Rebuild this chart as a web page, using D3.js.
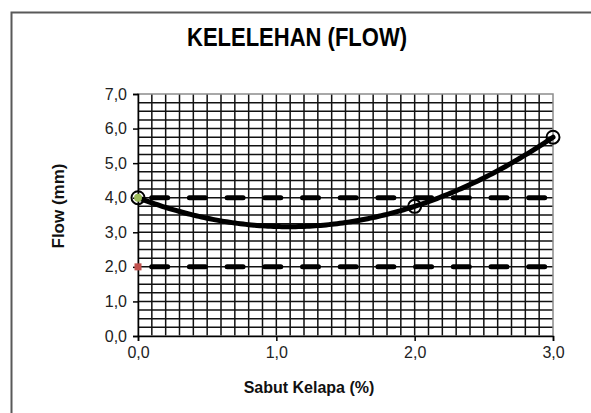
<!DOCTYPE html>
<html>
<head>
<meta charset="utf-8">
<script src="https://cdn.jsdelivr.net/npm/d3@7"></script>
<style>
  body { margin: 0; background: #fff; }
  svg { display: block; font-family: "Liberation Sans", Arial, sans-serif; }
</style>
</head>
<body>
<div id="chart"></div>
<script>
// data
var sabut = [0.0, 2.0, 3.0];          // Sabut Kelapa (%)
var flow = [4.0, 3.75, 5.75];          // Flow (mm)
var batasAtas = 4.0;                   // upper spec line
var batasBawah = 2.0;                  // lower spec line
var xTicks = [0, 1, 2, 3];
var yTicks = [0, 1, 2, 3, 4, 5, 6, 7];

var W = 591, H = 413;
var margin = { top: 94, right: 38, bottom: 77, left: 138 };

var svg = d3.select("#chart").append("svg")
	.attr("width", W)
	.attr("height", H);

svg.append("rect").attr("width", W).attr("height", H).attr("fill", "#fff");

// outer chart border (runs off the right / bottom)
svg.append("rect")
	.attr("x", 11.5).attr("y", 12.5)
	.attr("width", W).attr("height", H)
	.attr("fill", "none")
	.attr("stroke", "#595959")
	.attr("stroke-width", 2);

var x = d3.scaleLinear().domain([0, 3]).range([margin.left, W - margin.right]);
var y = d3.scaleLinear().domain([0, 7]).range([H - margin.bottom, margin.top]);

// gridlines (minor x 0.1, minor y 0.25)
var grid = svg.append("g").attr("class", "grid");
grid.selectAll(".gx")
	.data(d3.range(1, 30).map(function(i) { return i / 10; }))
	.enter().append("line")
	.attr("x1", function(d) { return x(d); })
	.attr("x2", function(d) { return x(d); })
	.attr("y1", y(0)).attr("y2", y(7))
	.attr("stroke", "#111").attr("stroke-width", 1.5);
grid.selectAll(".gy")
	.data(d3.range(1, 28).map(function(i) { return i / 4; }))
	.enter().append("line")
	.attr("y1", function(d) { return y(d); })
	.attr("y2", function(d) { return y(d); })
	.attr("x1", x(0)).attr("x2", x(3))
	.attr("stroke", "#111").attr("stroke-width", 1.5);

// plot area border
svg.append("rect")
	.attr("x", x(0)).attr("y", y(7))
	.attr("width", x(3) - x(0)).attr("height", y(0) - y(7))
	.attr("fill", "none")
	.attr("stroke", "#8c8c8c").attr("stroke-width", 1.5);

// axes
var fmt = function(d) { return d3.format(".1f")(d).replace(".", ","); };
var yAxis = d3.axisLeft(y).tickValues(yTicks).tickSize(5).tickPadding(6).tickFormat(fmt);
var xAxis = d3.axisBottom(x).tickValues(xTicks).tickSize(5).tickPadding(6).tickFormat(fmt);

var gy = svg.append("g").attr("transform", "translate(" + x(0) + ",0)").call(yAxis);
var gx = svg.append("g").attr("transform", "translate(0," + y(0) + ")").call(xAxis);
[gx, gy].forEach(function(g) {
	g.select(".domain").attr("stroke", "#000").attr("stroke-width", 1.5);
	g.selectAll(".tick line").attr("stroke", "#000").attr("stroke-width", 1.5);
	g.selectAll(".tick text")
		.attr("font-size", 16)
		.attr("font-family", "'Liberation Sans', Arial, sans-serif")
		.attr("fill", "#222");
});

// spec lines (long dash)
var batas = [
	{ value: batasAtas, color: "#9bbb59" },
	{ value: batasBawah, color: "#c0504d" }
];
svg.selectAll(".batas")
	.data(batas)
	.enter().append("line")
	.attr("class", "batas")
	.attr("x1", x(0)).attr("x2", x(3))
	.attr("y1", function(d) { return y(d.value); })
	.attr("y2", function(d) { return y(d.value); })
	.attr("stroke", "#000")
	.attr("stroke-width", 5)
	.attr("stroke-linecap", "round")
	.attr("stroke-dasharray", "16 21.7")
	.attr("stroke-dashoffset", 24);

// polynomial (order 2) trendline, least squares from the data
function polyFit2(xs, ys) {
	var n = xs.length, s = [0, 0, 0, 0, 0], t = [0, 0, 0];
	for (var i = 0; i < n; i++) {
		for (var k = 0; k < 5; k++) s[k] += Math.pow(xs[i], k);
		for (var k2 = 0; k2 < 3; k2++) t[k2] += ys[i] * Math.pow(xs[i], k2);
	}
	var M = [[s[0], s[1], s[2], t[0]], [s[1], s[2], s[3], t[1]], [s[2], s[3], s[4], t[2]]];
	for (var c = 0; c < 3; c++) {
		for (var r = c + 1; r < 3; r++) {
			var f = M[r][c] / M[c][c];
			for (var j = c; j < 4; j++) M[r][j] -= f * M[c][j];
		}
	}
	var coef = [0, 0, 0];
	for (var r2 = 2; r2 >= 0; r2--) {
		var sum = M[r2][3];
		for (var j2 = r2 + 1; j2 < 3; j2++) sum -= M[r2][j2] * coef[j2];
		coef[r2] = sum / M[r2][r2];
	}
	return function(v) { return coef[0] + coef[1] * v + coef[2] * v * v; };
}
var trend = polyFit2(sabut, flow);
var trendPts = d3.range(0, 3.0001, 0.02);

svg.append("path")
	.datum(trendPts)
	.attr("fill", "none")
	.attr("stroke", "#000")
	.attr("stroke-width", 5)
	.attr("stroke-linecap", "round")
	.attr("d", d3.line()
		.x(function(d) { return x(d); })
		.y(function(d) { return y(trend(d)); }));

// spec markers at the start of each spec line
svg.append("circle")
	.attr("cx", x(0)).attr("cy", y(batasAtas))
	.attr("r", 4).attr("fill", batas[0].color);
svg.append("rect")
	.attr("x", x(0) - 3.5).attr("y", y(batasBawah) - 3.5)
	.attr("width", 7).attr("height", 7)
	.attr("fill", batas[1].color);

// data points (open circles)
svg.selectAll(".pt")
	.data(sabut)
	.enter().append("circle")
	.attr("class", "pt")
	.attr("cx", function(d) { return x(d); })
	.attr("cy", function(d, i) { return y(flow[i]); })
	.attr("r", 6.5)
	.attr("fill", "none")
	.attr("stroke", "#000")
	.attr("stroke-width", 2);

// titles
svg.append("text")
	.attr("x", 297).attr("y", 46)
	.attr("text-anchor", "middle")
	.attr("font-size", 25)
	.attr("font-weight", "bold")
	.attr("textLength", 220)
	.attr("lengthAdjust", "spacingAndGlyphs")
	.text("KELELEHAN (FLOW)");

svg.append("text")
	.attr("x", 309).attr("y", 393)
	.attr("text-anchor", "middle")
	.attr("font-size", 16)
	.attr("font-weight", "bold")
	.attr("fill", "#111")
	.text("Sabut Kelapa (%)");

svg.append("text")
	.attr("transform", "translate(64,206) rotate(-90)")
	.attr("text-anchor", "middle")
	.attr("font-size", 17)
	.attr("font-weight", "bold")
	.attr("fill", "#111")
	.text("Flow (mm)");
</script>
</body>
</html>
